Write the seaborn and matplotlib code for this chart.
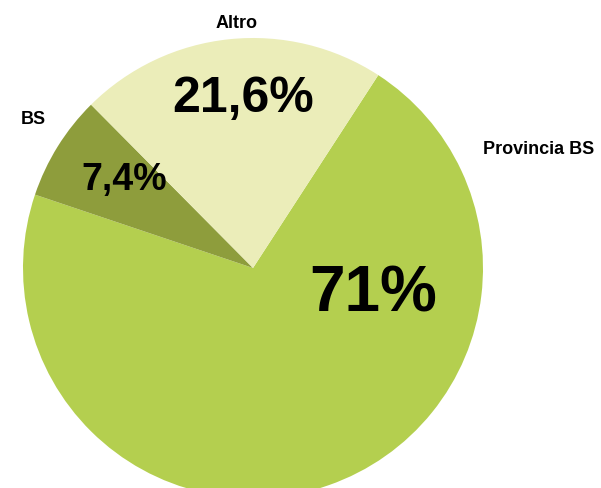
import matplotlib
matplotlib.use('Agg')
import matplotlib.pyplot as plt
import seaborn as sns

sns.set_theme(style='white')
plt.rcParams['font.family'] = ['Liberation Sans', 'DejaVu Sans']

# data
labels = ['Provincia BS', 'BS', 'Altro']
shares = [71.0, 7.4, 21.6]
colors = ['#b4cf4f', '#8e9d3c', '#ebedb9']

# layout: label / percentage positions (data units, pie radius = 1)
label_pos = [(1.24, 0.496), (-0.957, 0.626), (-0.07, 1.043)]
pct_pos = [(0.522, -0.191), (-0.561, 0.339), (-0.041, 0.678)]
pct_sizes = [46, 27, 36]


def fmt_pct(p):
    s = f"{p:.1f}".rstrip('0').rstrip('.')
    return s.replace('.', ',') + '%'


fig = plt.figure(figsize=(6.01, 4.88), dpi=100)
ax = fig.add_axes([0, 0, 1, 1])

wedges, texts, autotexts = ax.pie(shares, labels=labels, colors=colors,
                                  startangle=57, counterclock=False,
                                  autopct=fmt_pct,
                                  wedgeprops={'linewidth': 0})

for t, pos in zip(texts, label_pos):
    t.set_position(pos)
    t.set_ha('center')
    t.set_va('baseline')
    t.set_fontsize(13)
    t.set_fontweight('bold')
    t.set_color('black')

for t, pos, size in zip(autotexts, pct_pos, pct_sizes):
    t.set_position(pos)
    t.set_ha('center')
    t.set_va('baseline')
    t.set_fontsize(size)
    t.set_fontweight('bold')
    t.set_color('black')

ax.set_aspect('auto')
ax.set_xlim(-253 / 230, (601 - 253) / 230)
ax.set_ylim(-(488 - 268) / 230, 268 / 230)
ax.axis('off')

fig.savefig('out.png', dpi=100, facecolor='white')
